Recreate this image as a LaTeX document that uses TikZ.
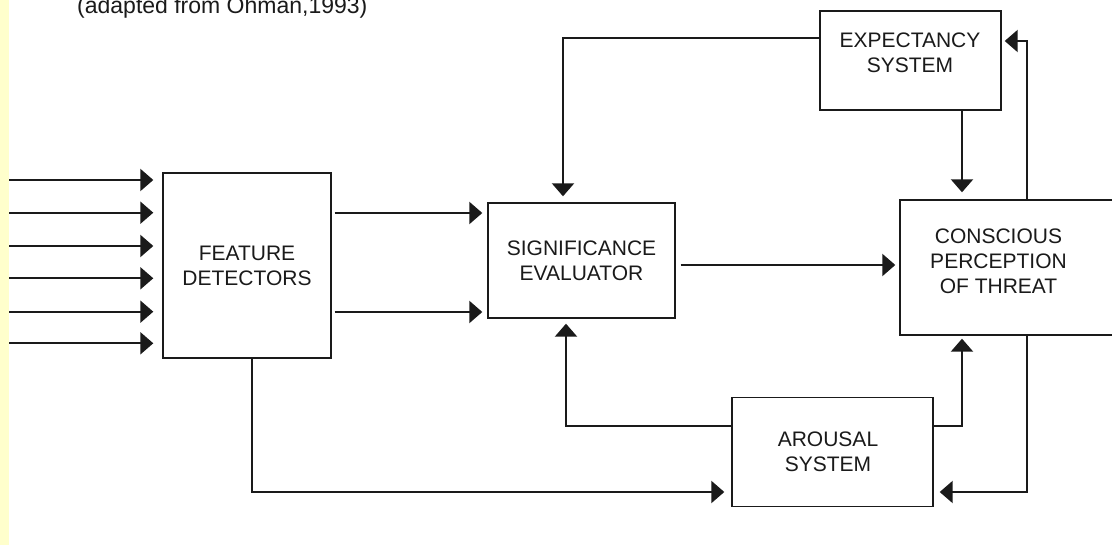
\documentclass[tikz,border=0pt]{standalone}
\usepackage{fontspec}
\setmainfont{Liberation Sans}
\usetikzlibrary{arrows.meta,calc}
\definecolor{strip}{HTML}{FFFFCC}
\definecolor{ink}{HTML}{1A1A1A}
\begin{document}
\begin{tikzpicture}[x=1pt,y=-1pt,
  box/.style={draw=ink, line width=1.4pt, rectangle, inner sep=0pt, align=center, text=ink, font=\fontsize{21}{25}\selectfont},
  lbl/.style={inner sep=0pt, align=center, text=ink, font=\fontsize{21}{25}\selectfont},
  conn/.style={draw=ink, line width=2.2pt, -{Triangle[length=13pt,width=22pt]}}]
\clip (0,0) rectangle (1112,545);
\fill[white] (0,0) rectangle (1112,545);
\fill[strip] (0,0) rectangle (9,545);
\node[anchor=base west, inner sep=0pt, text=ink, font=\fontsize{23}{27}\selectfont] (title) at (77,14) {(adapted from Ohman,1993)};
% boxes
\node[box, minimum width=168pt, minimum height=185pt] (fd) at (247,265.5) {FEATURE\\DETECTORS};
\node[box, minimum width=187pt, minimum height=115pt] (se) at (581.5,260.5) {SIGNIFICANCE\\EVALUATOR};
\node[box, minimum width=181pt, minimum height=99pt] (ex) at (910.5,60.5) {};
\node[lbl] (exT) at (910,52.5) {EXPECTANCY\\SYSTEM};
\node[box, minimum width=220pt, minimum height=135pt] (cp) at (1010,267.5) {};
\node[lbl] (cpT) at (998.5,261.5) {CONSCIOUS\\PERCEPTION\\OF THREAT};
\node[box, minimum width=201pt, minimum height=109pt] (ar) at (832.5,452) {};
\node[lbl] (arT) at (828,451.5) {AROUSAL\\SYSTEM};
% inputs
\foreach \y [count=\i] in {180,212.7,246,278.3,311.7,343.3} {
  \coordinate (in\i) at (9,\y);
  \draw[conn, shorten >=9pt] (in\i) -- (in\i -| fd.west);
}
% helper coordinates
\coordinate (h1) at (0,213);
\coordinate (h2) at (0,312);
\coordinate (h3) at (0,265);
\coordinate (yE) at (0,38);
\coordinate (yF) at (0,41);
\coordinate (yA) at (0,426);
\coordinate (yB) at (0,492);
\coordinate (xD) at (563,0);
\coordinate (xU) at (566,0);
\coordinate (xE) at (962,0);
\coordinate (xC) at (1027,0);
\coordinate (xF) at (252,0);
% connectors
\draw[conn, shorten <=3pt, shorten >=5pt] (h1 -| fd.east) -- (h1 -| se.west);
\draw[conn, shorten <=3pt, shorten >=5pt] (h2 -| fd.east) -- (h2 -| se.west);
\draw[conn, shorten <=5pt, shorten >=4pt] (h3 -| se.east) -- (h3 -| cp.west);
\draw[conn, shorten >=6pt] (yE -| ex.west) -| (xD |- se.north);
\draw[conn, shorten >=7pt] (xE |- ex.south) -- (xE |- cp.north);
\draw[conn, shorten >=3pt] (xC |- cp.north) |- (yF -| ex.east);
\draw[conn, shorten >=3pt] (yA -| ar.east) -| (xE |- cp.south);
\draw[conn, shorten >=6pt] (xC |- cp.south) |- (yB -| ar.east);
\draw[conn, shorten >=5pt] (yA -| ar.west) -| (xU |- se.south);
\draw[conn, shorten >=7pt] (xF |- fd.south) |- (yB -| ar.west);
\end{tikzpicture}
\end{document}
